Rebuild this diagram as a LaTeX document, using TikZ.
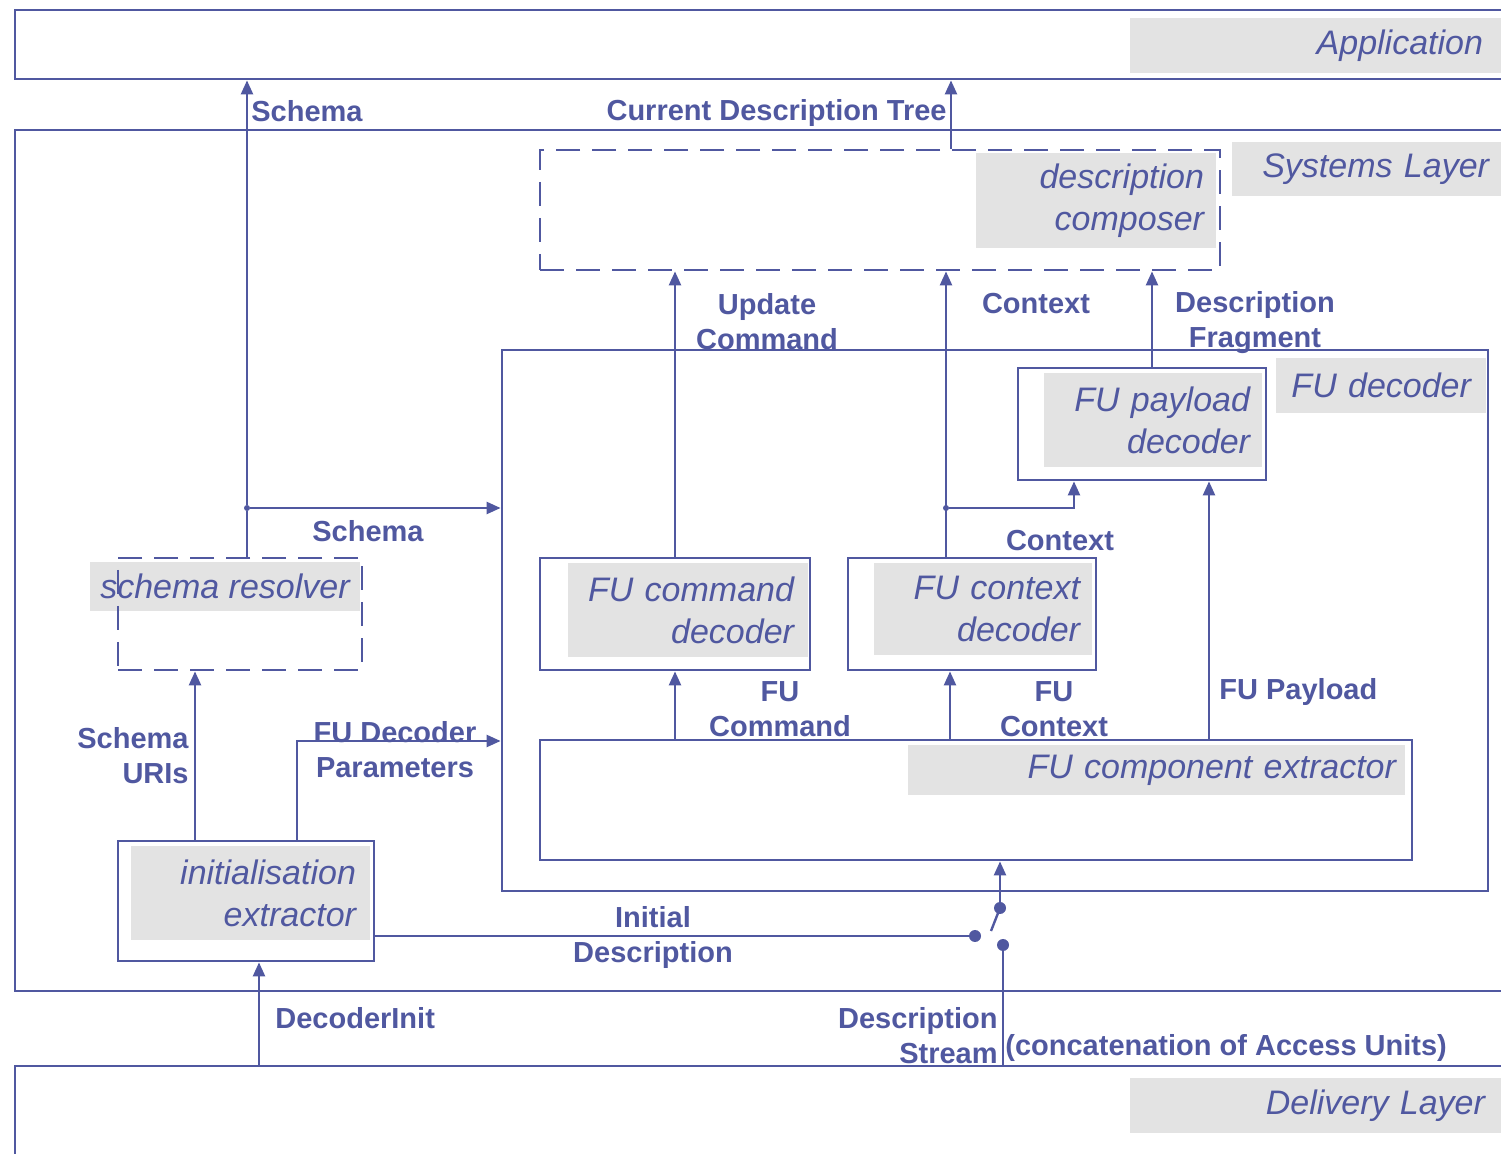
\documentclass[tikz,border=0pt]{standalone}
\usepackage{fontspec}
\setmainfont{Liberation Sans}
\usetikzlibrary{arrows.meta}
\definecolor{ink}{RGB}{80,88,160}
\definecolor{shade}{RGB}{227,227,227}
\tikzset{
  box/.style={draw=ink, line width=1.4pt, inner sep=0pt},
  dbox/.style={box, dash pattern=on 12pt off 6pt},
  tag/.style={fill=shade, text=ink, align=right, inner xsep=6pt, inner ysep=0pt, font=\fontsize{17}{21}\selectfont\itshape},
  lbl/.style={text=ink, align=center, inner sep=0pt, font=\fontsize{14.5}{17.5}\selectfont\bfseries},
  dot/.style={circle, fill=ink, inner sep=0pt, minimum size=6pt},
  joint/.style={circle, fill=ink, inner sep=0pt, minimum size=3pt},
  wire/.style={draw=ink, line width=1.2pt},
  flow/.style={wire, -{Triangle[length=7pt,width=6pt]}},
}
\begin{document}
\begin{tikzpicture}[x=0.5pt, y=-0.5pt]
  \useasboundingbox (0,0) rectangle (1501,1154);
  \clip (0,0) rectangle (1501,1154);

  \node[tag, inner xsep=9pt, text width=167.5pt, minimum height=27.5pt] (AppT) at (1315.5,45.5) {Application};
  \node[tag, text width=122.5pt, minimum height=27pt] (SysT) at (1366.5,169) {Systems Layer};
  \node[tag, inner xsep=8pt, text width=169.5pt, minimum height=27.5pt] (DelT) at (1315.5,1105.5) {Delivery Layer};
  \node[tag, text width=108pt, minimum height=47.5pt] (CompT) at (1096,200.5) {description\\composer};
  \node[tag, inner xsep=7.5pt, text width=90pt, minimum height=27.5pt] (FudT) at (1381,385.5) {FU decoder};
  \node[tag, text width=97pt, minimum height=47pt] (PayT) at (1153,420) {FU payload\\decoder};
  \node[tag, inner xsep=7pt, text width=106pt, minimum height=47pt] (CmdT) at (688,610) {FU command\\decoder};
  \node[tag, text width=97pt, minimum height=46pt] (CtxT) at (983,609) {FU context\\decoder};
  \node[tag, inner xsep=4.5pt, text width=239.5pt, minimum height=25pt] (ExtT) at (1156.5,770) {FU component extractor};
  \node[tag, inner xsep=2pt, minimum width=135pt, minimum height=24.5pt] (ResT) at (225,586.5) {schema resolver};
  \node[tag, inner xsep=7pt, text width=105.5pt, minimum height=47pt] (IniT) at (250.5,893) {initialisation\\extractor};

  \node[box, minimum width=752.5pt, minimum height=34.5pt] (App) at (767.5,44.5) {};
  \node[box, minimum width=752.5pt, minimum height=430.5pt] (Sys) at (767.5,560.5) {};
  \node[box, minimum width=752.5pt, minimum height=67pt] (Del) at (767.5,1133) {};
  \node[dbox, minimum width=340pt, minimum height=60pt] (Comp) at (880,210) {};
  \node[box, minimum width=493pt, minimum height=270.5pt] (Fud) at (995,620.5) {};
  \node[box, minimum width=124pt, minimum height=56pt] (Pay) at (1142,424) {};
  \node[box, minimum width=135pt, minimum height=56pt] (Cmd) at (675,614) {};
  \node[box, minimum width=124pt, minimum height=56pt] (Ctx) at (972,614) {};
  \node[box, minimum width=436pt, minimum height=60pt] (Ext) at (976,800) {};
  \node[dbox, minimum width=122pt, minimum height=56pt] (Res) at (240,614) {};
  \node[box, minimum width=128pt, minimum height=60pt] (Ini) at (246,901) {};

  \node[joint] (SJ) at (247,508) {};
  \node[joint] (CJ) at (946,508) {};
  \node[dot] (SW1) at (975,936) {};
  \node[dot] (SW2) at (1000,908) {};
  \node[dot] (SW3) at (1003,945) {};
  \coordinate (Blade) at (991,931);
  \coordinate (Cdt) at ([xshift=35.5pt]Comp.north);
  \coordinate (Ctu) at ([xshift=-13pt]Ctx.north);
  \coordinate (Dfr) at ([xshift=5pt]Pay.north);
  \coordinate (Ctin) at ([xshift=-34pt]Pay.south);
  \coordinate (Fpl) at ([xshift=33.5pt]Pay.south);
  \coordinate (Fcx) at ([xshift=-11pt]Ctx.south);
  \coordinate (Suri) at ([xshift=-25.5pt]Ini.north);
  \coordinate (Fdp) at ([xshift=25.5pt]Ini.north);
  \coordinate (Fpk) at (297,741);
  \coordinate (Dinit) at ([xshift=6.5pt]Ini.south);

  \draw[wire] ([xshift=3.5pt]Res.north) -- (SJ);
  \draw[flow] (SJ) -- (SJ |- App.south);
  \draw[flow] (SJ) -- (SJ -| Fud.west);
  \draw[flow] (Cdt) -- (Cdt |- App.south);
  \draw[flow] (Cmd.north) -- (Cmd.north |- Comp.south);
  \draw[flow] (Ctu) -- (Ctu |- Comp.south);
  \draw[flow] (CJ) -| (Ctin);
  \draw[flow] (Dfr) -- (Dfr |- Comp.south);
  \draw[flow] (Cmd.south |- Ext.north) -- (Cmd.south);
  \draw[flow] (Fcx |- Ext.north) -- (Fcx);
  \draw[flow] (Fpl |- Ext.north) -- (Fpl);
  \draw[flow] (Suri) -- (Suri |- Res.south);
  \draw[flow] (Fdp) -- (Fpk) -- (Fpk -| Fud.west);
  \draw[wire] (SW1 -| Ini.east) -- (SW1);
  \draw[flow] (SW2) -- (SW2 |- Ext.south);
  \draw[wire] (SW2.center) -- (Blade);
  \draw[wire] (SW3) -- (SW3 |- Del.north);
  \draw[flow] (Dinit |- Del.north) -- (Dinit);

  \node[lbl, anchor=west] (SchA) at (251,111) {Schema};
  \node[lbl, anchor=east] (CdtL) at (947,113) {Current Description Tree};
  \node[lbl] (UcmL) at (767,322) {Update\\Command};
  \node[lbl] (CtuL) at (1036,304) {Context};
  \node[lbl] (DfrL) at (1255,323) {Description\\Fragment};
  \node[lbl] (SchB) at (368,531) {Schema};
  \node[lbl] (CtinL) at (1060,541) {Context};
  \node[lbl] (FcmL) at (780,709) {FU\\Command};
  \node[lbl] (FcxL) at (1054,709) {FU\\Context};
  \node[lbl, anchor=west] (FplL) at (1219,692) {FU Payload};
  \node[lbl, align=right, anchor=east] (SuriL) at (189,756) {Schema\\URIs};
  \node[lbl] (FdpL) at (395,750) {FU Decoder\\Parameters};
  \node[lbl] (IdL) at (653,938) {Initial\\Description};
  \node[lbl, anchor=west] (DinitL) at (275,1018) {DecoderInit};
  \node[lbl, align=right, anchor=east] (DsL) at (998,1036) {Description\\Stream};
  \node[lbl, anchor=west] (AuL) at (1005,1048) {(concatenation of Access Units)};
\end{tikzpicture}
\end{document}
